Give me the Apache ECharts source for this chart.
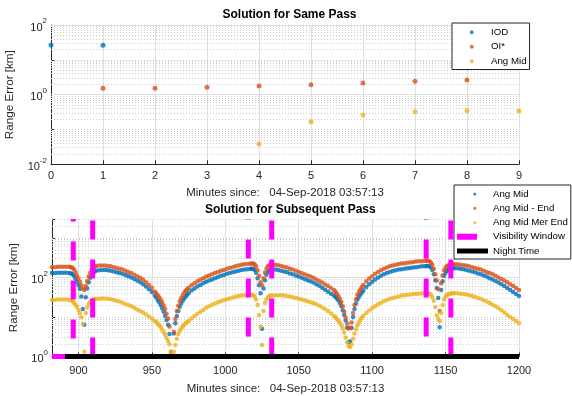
<!DOCTYPE html>
<html><head><meta charset="utf-8">
<script src="https://cdn.jsdelivr.net/npm/echarts@6/dist/echarts.min.js"></script>
<style>html,body{margin:0;padding:0;background:#fff}#c{width:572px;height:396px}</style>
</head><body><div id="c"></div>
<script>
// ---------------- DATA : top panel (Solution for Same Pass) ----------------
const topXTicks = [0,1,2,3,4,5,6,7,8,9];
const iodX = [0, 1];
const iodErr = [26.6, 26.1];
const oiX = [1, 2, 3, 4, 5, 6, 7, 8];
const oiErr = [1.52, 1.52, 1.62, 1.77, 1.92, 2.15, 2.41, 2.63];
const angTopX = [4, 5, 6, 7, 8, 9];
const angTopErr = [0.038, 0.166, 0.259, 0.323, 0.344, 0.338];
const topYRange = [0.01, 100];

// ---------------- DATA : bottom panel (Solution for Subsequent Pass) ----------------
const minutes = [
 882,884,886,888,890,892,894,
 895,896,897,898,899,900,901,902,903,904,905,906,907,908,909,910,911,912,
 914,916,918,920,922,924,926,928,930,932,934,936,938,940,942,944,946,948,950,952,
 953,954,955,956,957,958,959,960,961,962,963,964,965,966,967,968,969,970,971,972,973,974,975,
 977,979,981,983,985,987,989,991,993,995,997,999,1001,1003,1005,1007,1009,1011,1013,1015,1017,
 1018,1019,1020,1021,1022,1023,1024,1025,1026,1027,1028,1029,1030,1031,1032,
 1034,1036,1038,1040,1042,1044,1046,1048,1050,1052,1054,1056,1058,1060,1062,1064,1066,1068,1070,1072,1074,
 1075,1076,1077,1078,1079,1080,1081,1082,1083,1084,1085,1086,1087,1088,1089,1090,1091,1092,1093,1094,
 1096,1098,1100,1102,1104,1106,1108,1110,1112,1114,1116,1118,1120,1122,1124,1126,1128,1130,1132,1134,1136,
 1137,1138,1139,1140,1141,1142,1143,1144,1145,1146,1147,1148,1149,1150,1151,1152,1153,1154,1155,1156,
 1158,1160,1162,1164,1166,1168,1170,1172,1174,1176,1178,1180,1182,1184,1186,1188,1190,1192,1194,1196,1198,1200
];
const angMid = [
 129,129,132,132,132,132,129,
 126,120,110,93.3,77.6,63.1,51.3,33.1,15.8,6.31,31.6,52.5,75.9,97.7,117,132,141,148,
 151,155,155,151,148,141,135,129,123,115,107,100,91.2,83.2,75.9,67.6,58.9,50.1,42.7,34.7,
 30.9,26.9,23.4,20.0,16.6,13.5,10.7,8.32,6.31,3.72,1.12,0.4,3.80,6.92,10.5,14.1,18.2,21.9,25.7,29.5,33.1,36.3,39.8,
 46.8,52.5,58.9,64.6,70.8,77.6,83.2,89.1,95.5,102,110,115,123,129,135,141,148,155,158,162,166,
 166,166,155,132,95.5,63.1,39.8,5.01,52.5,85.1,117,138,151,158,158,
 158,155,148,141,135,126,120,112,105,97.7,91.2,85.1,79.4,74.1,67.6,61.7,55.0,49.0,43.7,38.9,34.7,
 32.4,29.5,26.3,22.4,18.6,14.8,11.2,8.13,5.37,2.34,2.40,5.25,10.0,15.8,21.9,27.5,32.4,37.2,41.7,46.8,
 57.5,67.6,77.6,89.1,100,110,120,129,138,145,151,158,162,166,170,174,178,182,186,191,191,
 195,195,191,178,155,120,85.1,53.7,30.2,5.50,47.9,79.4,110,132,148,158,162,166,170,170,
 170,166,162,155,148,141,135,126,120,112,105,95.5,89.1,81.3,74.1,67.6,60.3,53.7,47.9,42.7,38.0,33.9
];
const angMidEnd = [
 182,182,186,186,186,186,186,
 182,174,158,135,112,93.3,77.6,63.1,52.5,47.9,60.3,79.4,105,132,155,174,186,195,
 200,200,200,195,191,182,174,166,158,148,138,129,117,107,97.7,87.1,75.9,64.6,55.0,43.7,
 39.8,35.5,31.6,27.5,23.4,19.5,15.8,12.3,9.12,5.75,1.32,0.5,4.17,8.91,14.1,19.1,25.1,30.2,35.5,40.7,45.7,50.1,55.0,
 63.1,70.8,79.4,87.1,95.5,105,112,120,129,138,148,155,166,174,182,191,200,209,214,219,224,
 224,224,214,191,151,110,75.9,63.1,95.5,132,166,191,204,214,214,
 209,204,195,186,178,166,158,148,138,129,120,112,105,97.7,89.1,81.3,74.1,66.1,60.3,53.7,47.9,
 43.7,38.9,33.9,28.8,24.0,18.6,13.5,9.55,6.76,5.13,5.37,7.24,12.6,20.0,28.2,36.3,43.7,50.1,57.5,64.6,
 79.4,93.3,107,123,138,151,166,178,191,200,209,219,224,229,234,240,245,251,257,257,263,
 263,263,257,240,209,166,120,83.2,50.1,14.1,70.8,112,151,178,195,204,209,214,214,214,
 214,209,204,200,191,182,174,166,158,148,138,129,120,110,100,91.2,83.2,75.9,67.6,60.3,53.7,47.9
];
const angMidMerEnd = [
 26.9,26.9,27.5,27.5,27.5,27.5,26.9,
 26.3,25.1,22.9,20.4,17.8,15.1,12.6,9.77,6.61,1.32,12.6,17.4,21.4,24.0,26.3,27.5,28.2,28.8,
 28.8,29.5,29.5,28.8,28.2,26.9,25.7,24.5,22.9,21.4,20.0,18.6,17.0,15.5,14.1,12.9,11.5,10.2,9.12,7.94,
 7.41,6.76,6.17,5.50,4.79,4.17,3.55,2.95,2.45,2.04,1.26,0.5,1.32,1.95,2.82,3.72,4.47,5.13,5.75,6.31,6.92,7.41,7.94,
 9.12,10.5,12.0,13.5,15.1,17.0,18.6,20.4,21.9,23.4,25.1,26.9,28.2,29.5,30.9,32.4,33.9,34.7,35.5,36.3,36.3,
 36.3,35.5,33.1,27.5,20.0,11.2,5.62,1.95,14.1,22.4,28.2,31.6,33.9,34.7,34.7,
 35.5,35.5,35.5,34.7,33.9,33.1,31.6,30.2,28.8,27.5,26.3,25.1,23.4,22.4,20.9,19.1,17.4,15.8,14.1,12.3,10.5,
 9.77,8.91,8.13,7.24,6.17,5.13,4.07,3.02,2.29,1.82,1.74,2.00,2.82,3.80,4.90,6.17,7.24,8.51,9.55,10.7,
 12.6,14.5,16.6,18.6,20.9,22.9,25.1,26.9,28.8,30.2,31.6,33.1,34.7,35.5,36.3,37.2,38.0,38.9,38.9,39.8,39.8,
 39.8,39.8,38.9,36.3,31.6,25.7,17.8,11.0,8.91,7.94,12.6,20.0,27.5,33.1,36.3,38.0,38.9,39.8,39.8,39.8,
 39.8,38.9,38.0,37.2,35.5,33.9,32.4,30.2,28.8,26.3,24.5,22.4,20.4,18.6,16.6,14.8,12.9,11.2,10.0,8.91,7.94,6.92
];
const visStart = [896.5, 1015.7, 1136.8];
const visEnd   = [909.7, 1031.6, 1153.6];
const nightStart = 890.9;
const nightEnd = 1200;
const bottomXRange = [882, 1200];
const bottomYRange = [1, 3000];

// ---------------- STYLE ----------------
const FONT = '"Liberation Sans", Arial, Helvetica, sans-serif';
const TXT = '#262626';
const GRIDC = '#dfdfdf';
const MINORC = '#cdcdcd';
const BLUE = '#0072BD', ORANGE = '#D95319', YELLOW = '#EDB120', MAGENTA = '#FF00FF';

function gridMarks(lo, hi, majors) {
  const items = [];
  const d0 = Math.round(Math.log10(lo)), d1 = Math.ceil(Math.log10(hi)) - 1;
  for (let d = d0; d <= d1; d++) {
    for (let k = 1; k <= 9; k++) {
      const v = +(k * Math.pow(10, d)).toPrecision(6);
      if (v <= lo * 1.0001 || v > hi * 1.0001) continue;
      if (majors.some(m => Math.abs(m - v) < 1e-9 * m)) continue;
      items.push({ yAxis: v, lineStyle: { type: [1, 2], color: MINORC, width: 1 } });
    }
  }
  majors.forEach(m => items.push({ yAxis: m, lineStyle: { type: 'solid', color: GRIDC, width: 1 } }));
  return { silent: true, symbol: ['none', 'none'], label: { show: false }, z: 1, animation: false,
           emphasis: { disabled: true }, data: items };
}
function logLabel(v) {
  const l = Math.log10(v), e = Math.round(l);
  if (Math.abs(l - e) > 1e-6 || e % 2 !== 0) return '';
  return '{b|10}{s|' + e + '}';
}
const logRich = {
  b: { fontSize: 11, color: TXT, fontFamily: FONT, lineHeight: 16, verticalAlign: 'bottom' },
  s: { fontSize: 8, color: TXT, fontFamily: FONT, lineHeight: 10, verticalAlign: 'top' }
};
const xName = 'Minutes since:   04-Sep-2018 03:57:13';

function xAxisCommon(extra) {
  return Object.assign({
    type: 'value', name: xName, nameLocation: 'middle',
    nameTextStyle: { fontSize: 11.5, color: TXT, fontFamily: FONT, lineHeight: 13 },
    axisLine: { show: true, onZero: false, lineStyle: { color: TXT, width: 1 } },
    axisTick: { show: true, inside: true, length: 4, lineStyle: { color: TXT } },
    splitLine: { show: true, lineStyle: { color: GRIDC, width: 1 } }
  }, extra);
}
function yAxisCommon(extra) {
  return Object.assign({
    type: 'log', logBase: 10, name: 'Range Error [km]', nameLocation: 'middle', nameGap: 28,
    nameTextStyle: { fontSize: 11.7, color: TXT, fontFamily: FONT, lineHeight: 13 },
    axisLine: { show: true, lineStyle: { color: TXT, width: 1 } },
    axisTick: { show: true, inside: true, length: 4, lineStyle: { color: TXT } },
    axisLabel: { formatter: logLabel, rich: logRich, margin: 4, color: TXT },
    splitLine: { show: false }, minorTick: { show: false }
  }, extra);
}
const plainNum = v => String(Math.round(v * 1000) / 1000);

const DOT_T = 'path://M0,0h0.01v0.01h-0.01zM31,6h-0.01v-0.01h0.01zM14.75,3a2,2 0 1,0 4,0a2,2 0 1,0 -4,0z';
const DOT_B = 'path://M0,0h0.01v0.01h-0.01zM31,6h-0.01v-0.01h0.01zM16.2,3a1.6,1.6 0 1,0 3.2,0a1.6,1.6 0 1,0 -3.2,0z';
const VIS_ICON = 'path://M0,0h20v6h-20zM31,6h-0.01v-0.01h0.01z';
const NIGHT_ICON = 'path://M0,0h0.01v0.01h-0.01zM0,0.5h31v5h-31zM31,6h-0.01v-0.01h0.01z';
function li(name, icon, color) { return { name, icon, itemStyle: { color, borderWidth: 0, borderColor: color } }; }
function legendCommon(extra) {
  return Object.assign({
    orient: 'vertical', itemGap: 0, itemWidth: 31, itemHeight: 6, selectedMode: false,
    backgroundColor: '#fff', borderColor: TXT, borderWidth: 1, borderRadius: 0,
    padding: [2, 3, 1, 3]
  }, extra);
}

const series = [];
// top panel
series.push({ type: 'scatter', name: 'IOD', xAxisIndex: 0, yAxisIndex: 0, z: 3, symbolSize: 5,
  itemStyle: { color: BLUE }, data: iodX.map((x, i) => [x, iodErr[i]]),
  markLine: gridMarks(topYRange[0], topYRange[1], [1, 100]) });
series.push({ type: 'scatter', name: 'OI*', xAxisIndex: 0, yAxisIndex: 0, z: 3, symbolSize: 5,
  itemStyle: { color: ORANGE }, data: oiX.map((x, i) => [x, oiErr[i]]) });
series.push({ type: 'scatter', name: 'Ang Mid', xAxisIndex: 0, yAxisIndex: 0, z: 3, symbolSize: 5,
  itemStyle: { color: YELLOW }, data: angTopX.map((x, i) => [x, angTopErr[i]]) });
// bottom panel
series.push({ type: 'scatter', name: 'Ang Mid', xAxisIndex: 1, yAxisIndex: 1, z: 3, symbolSize: 4.5,
  itemStyle: { color: BLUE }, data: minutes.map((m, i) => [m, angMid[i]]),
  markLine: gridMarks(bottomYRange[0], bottomYRange[1], [100]) });
series.push({ type: 'scatter', name: 'Ang Mid - End', xAxisIndex: 1, yAxisIndex: 1, z: 3, symbolSize: 4.5,
  itemStyle: { color: ORANGE }, data: minutes.map((m, i) => [m, angMidEnd[i]]) });
series.push({ type: 'scatter', name: 'Ang Mid Mer End', xAxisIndex: 1, yAxisIndex: 1, z: 3, symbolSize: 4.5,
  itemStyle: { color: YELLOW }, data: minutes.map((m, i) => [m, angMidMerEnd[i]]) });
function visLine(data, offset) {
  return { type: 'line', name: 'Visibility Window', xAxisIndex: 1, yAxisIndex: 1, z: 4, silent: true,
    symbol: 'none', showSymbol: false, clip: false, itemStyle: { color: MAGENTA },
    lineStyle: { color: MAGENTA, width: 5, type: [19, 20], dashOffset: offset, cap: 'butt' }, data };
}
series.push(visLine([[bottomXRange[0], bottomYRange[0]], [bottomXRange[1], bottomYRange[0]]], 0));
visStart.forEach((s, i) => series.push(visLine([[s, bottomYRange[0]], [s, bottomYRange[1]]], i === 0 ? 21 : 19)));
visEnd.forEach(s => series.push(visLine([[s, bottomYRange[0]], [s, bottomYRange[1]]], 0)));
series.push({ type: 'line', name: 'Night Time', xAxisIndex: 1, yAxisIndex: 1, z: 5, silent: true,
  symbol: 'none', showSymbol: false, clip: false, itemStyle: { color: '#000' },
  lineStyle: { color: '#000', width: 5 }, data: [[nightStart, bottomYRange[0]], [nightEnd, bottomYRange[0]]] });

const option = {
  animation: false,
  backgroundColor: '#fff',
  textStyle: { fontFamily: FONT },
  title: [
    { text: 'Solution for Same Pass', left: 222.5, top: 8, padding: 0,
      textStyle: { fontSize: 12, fontWeight: 'bold', color: '#000', fontFamily: FONT, lineHeight: 14 } },
    { text: 'Solution for Subsequent Pass', left: 205, top: 203, padding: 0,
      textStyle: { fontSize: 12, fontWeight: 'bold', color: '#000', fontFamily: FONT, lineHeight: 14 } }
  ],
  grid: [
    { left: 51, top: 25, width: 468, height: 139.3, outerBoundsMode: 'none', containLabel: false },
    { left: 52, top: 219, width: 467, height: 137.5, outerBoundsMode: 'none', containLabel: false }
  ],
  xAxis: [
    xAxisCommon({ gridIndex: 0, min: topXTicks[0], max: topXTicks[topXTicks.length - 1], interval: 1, nameGap: 22.5,
      axisLabel: { color: TXT, fontSize: 11, fontFamily: FONT, margin: 6, formatter: plainNum } }),
    xAxisCommon({ gridIndex: 1, min: bottomXRange[0], max: bottomXRange[1], splitNumber: 6, nameGap: 25.5,
      axisLabel: { color: TXT, fontSize: 11, fontFamily: FONT, margin: 9, showMinLabel: false, formatter: plainNum } })
  ],
  yAxis: [
    yAxisCommon({ gridIndex: 0, min: topYRange[0], max: topYRange[1] }),
    yAxisCommon({ gridIndex: 1, min: bottomYRange[0], max: bottomYRange[1] })
  ],
  legend: [
    legendCommon({ left: 452, top: 23,
      textStyle: { fontSize: 9.7, lineHeight: 14.5, color: '#000', fontFamily: FONT },
      data: [li('IOD', DOT_T, BLUE), li('OI*', DOT_T, ORANGE), li('Ang Mid', DOT_T, YELLOW)] }),
    legendCommon({ left: 454, top: 185,
      textStyle: { fontSize: 9.7, lineHeight: 14.2, color: '#000', fontFamily: FONT },
      data: [li('Ang Mid', DOT_B, BLUE), li('Ang Mid - End', DOT_B, ORANGE), li('Ang Mid Mer End', DOT_B, YELLOW),
             li('Visibility Window', VIS_ICON, MAGENTA), li('Night Time', NIGHT_ICON, '#000')] })
  ],
  series
};
const chart = echarts.init(document.getElementById('c'), null, { renderer: 'canvas' });
chart.setOption(option);
</script>
</body></html>
